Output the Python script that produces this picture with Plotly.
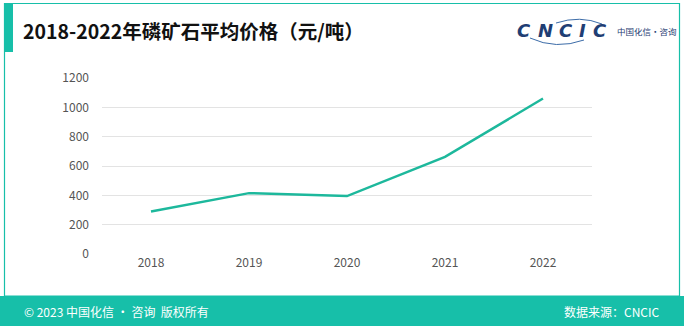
import plotly.graph_objects as go

years = ["2018", "2019", "2020", "2021", "2022"]
prices = [290, 415, 395, 662, 1060]
y_ticks = [0, 200, 400, 600, 800, 1000, 1200]

TEAL = "#17BFA9"
LINE = "#1DB89C"
NAVY = "#1F3E74"
FONT = "Noto Sans CJK SC, Noto Sans, sans-serif"

fig = go.Figure()
fig.add_trace(go.Scatter(x=years, y=prices, mode="lines",
                         line=dict(color=LINE, width=2.5), hoverinfo="skip"))

fig.update_layout(
    width=684, height=326,
    margin=dict(l=102, r=92, t=78, b=72),
    paper_bgcolor="white", plot_bgcolor="white",
    showlegend=False,
    font=dict(family=FONT, size=12, color="#555555"),
    xaxis=dict(type="category", range=[-0.5, 4.5], showgrid=False, zeroline=False,
               showline=False, ticks="", tickfont=dict(size=12, color="#555555"),
               fixedrange=True),
    yaxis=dict(range=[0, 1200], tickvals=y_ticks, showgrid=True, gridcolor="#E3E3E3",
               gridwidth=1, zeroline=False, showline=False, ticks="",
               ticklabelstandoff=12,
               tickfont=dict(size=12, color="#555555"), fixedrange=True),
)


def px_x(x):
    return (x - 102) / (684 - 102 - 92)


def px_y(y):
    return (254 - y) / (254 - 78)


# border lines
fig.add_shape(type="rect", xref="paper", yref="paper",
              x0=px_x(4.5), x1=px_x(679.5), y0=px_y(296), y1=px_y(3.5),
              line=dict(color=TEAL, width=1.2), fillcolor="rgba(0,0,0,0)", layer="below")
# left thick bar
fig.add_shape(type="rect", xref="paper", yref="paper",
              x0=px_x(4), x1=px_x(13), y0=px_y(52), y1=px_y(3),
              line=dict(width=0), fillcolor=TEAL, layer="above")
# footer band
fig.add_shape(type="rect", xref="paper", yref="paper",
              x0=px_x(0), x1=px_x(684), y0=px_y(326), y1=px_y(296),
              line=dict(width=0), fillcolor=TEAL, layer="above")
# logo swooshes
fig.add_shape(type="path", xref="paper", yref="paper",
              path=f"M {px_x(530)},{px_y(38)} Q {px_x(556)},{px_y(50)} {px_x(584)},{px_y(40)}",
              line=dict(color="#3C6CA8", width=1))
fig.add_shape(type="path", xref="paper", yref="paper",
              path=f"M {px_x(556)},{px_y(23)} Q {px_x(580)},{px_y(15)} {px_x(602)},{px_y(24)}",
              line=dict(color="#3C6CA8", width=1))

logo_letters = ["C", "N", "C", "I", "C"]
logo_centers = [524, 545, 566, 582, 600]
for ch, cx in zip(logo_letters, logo_centers):
    fig.add_annotation(xref="paper", yref="paper", showarrow=False,
                       text=f"<b><i>{ch}</i></b>", x=px_x(cx), y=px_y(31),
                       xanchor="center", yanchor="middle",
                       font=dict(size=18, color=NAVY, family="DejaVu Sans, sans-serif"))

ann = [
    dict(text="<b>2018-2022年磷矿石平均价格（元/吨）</b>", x=px_x(21), y=px_y(31),
         xanchor="left", yanchor="middle", font=dict(size=19.5, color="#111111")),
    dict(text="中国化信·咨询", x=px_x(615), y=px_y(31), xanchor="left",
         yanchor="middle", font=dict(size=8.5, color=NAVY)),
    dict(text="© 2023 中国化信 • 咨询  版权所有", x=px_x(22), y=px_y(311),
         xanchor="left", yanchor="middle", font=dict(size=12, color="white")),
    dict(text="数据来源：CNCIC", x=px_x(662), y=px_y(311),
         xanchor="right", yanchor="middle", font=dict(size=12, color="white")),
]
for a in ann:
    fig.add_annotation(xref="paper", yref="paper", showarrow=False, **a)

fig.write_html("out.html")
